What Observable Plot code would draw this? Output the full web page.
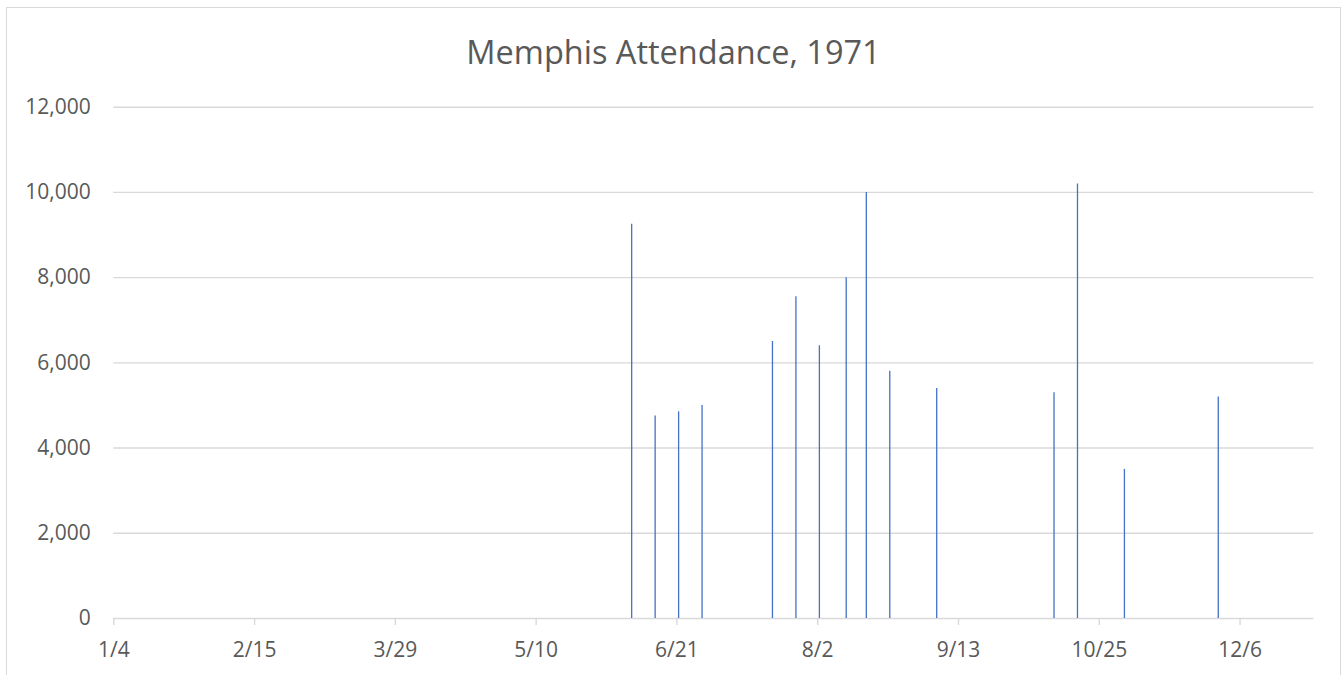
<!DOCTYPE html>
<html>
<head>
<meta charset="utf-8">
<script src="https://cdn.jsdelivr.net/npm/d3@7"></script>
<script src="https://cdn.jsdelivr.net/npm/@observablehq/plot@0.6"></script>
<style>
  html, body { margin: 0; padding: 0; background: #fff; }
  body { width: 1343px; height: 675px; position: relative; overflow: hidden; font-family: "Open Sans", sans-serif; }
  #frame { position: absolute; left: 6px; top: 7px; width: 1335px; height: 700px; border: 1.5px solid #d9d9d9; box-sizing: border-box; }
  #title { position: absolute; left: 6px; width: 1335px; top: 29px; text-align: center; font-size: 32.5px; color: #595959; line-height: 46px; }
  #chart { position: absolute; left: 0; top: 0; }
</style>
</head>
<body>
<div id="frame"></div>
<div id="title">Memphis Attendance, 1971</div>
<div id="chart"></div>
<script>
// Event dates (1971) and attendance
const dates = ["1971-06-07","1971-06-14","1971-06-21","1971-06-28","1971-07-19","1971-07-26","1971-08-02","1971-08-10","1971-08-16","1971-08-23","1971-09-06","1971-10-11","1971-10-18","1971-11-01","1971-11-29"];
const attendance = [9250, 4750, 4850, 5000, 6500, 7550, 6400, 8000, 10000, 5800, 5400, 5300, 10200, 3500, 5200];
// Axis ticks
const xTickLabels = ["1/4","2/15","3/29","5/10","6/21","8/2","9/13","10/25","12/6"];
const yTicks = [0, 2000, 4000, 6000, 8000, 10000, 12000];

const parseDay = s => new Date(s + "T00:00:00Z");
const data = dates.map((d, i) => ({date: parseDay(d), value: attendance[i]}));
const xTicks = xTickLabels.map(l => {
  const [m, d] = l.split("/").map(Number);
  return new Date(Date.UTC(1971, m - 1, d));
});
const halfDay = 12 * 3600 * 1000;

const chart = Plot.plot({
  width: 1343,
  height: 675,
  marginLeft: 113.3,
  marginRight: 29.7,
  marginTop: 106.7,
  marginBottom: 57,
  style: {fontFamily: "Open Sans, sans-serif", fontSize: "21px", color: "#595959", background: "transparent", overflow: "visible"},
  x: {type: "utc", domain: [new Date(Date.UTC(1971, 0, 4)), new Date(Date.UTC(1971, 11, 28))]},
  y: {domain: [0, 12000]},
  marks: [
    Plot.ruleY(yTicks, {y: d => d, stroke: "#d9d9d9", strokeWidth: 1.4}),
    Plot.axisY({ticks: yTicks, tickSize: 0, tickPadding: 23, tickFormat: d3.format(","), label: null, fill: "#595959"}),
    Plot.axisX({ticks: xTicks, tickSize: 7, tickPadding: 17, stroke: "#d9d9d9", strokeWidth: 1.4,
      tickFormat: d => `${d.getUTCMonth() + 1}/${d.getUTCDate()}`, label: null, fill: "#595959"}),
    Plot.ruleX(data, {x: d => new Date(+d.date + halfDay), y1: 0, y2: "value", stroke: "#4472C4", strokeWidth: 1.3})
  ]
});
document.getElementById("chart").appendChild(chart);
</script>
</body>
</html>
